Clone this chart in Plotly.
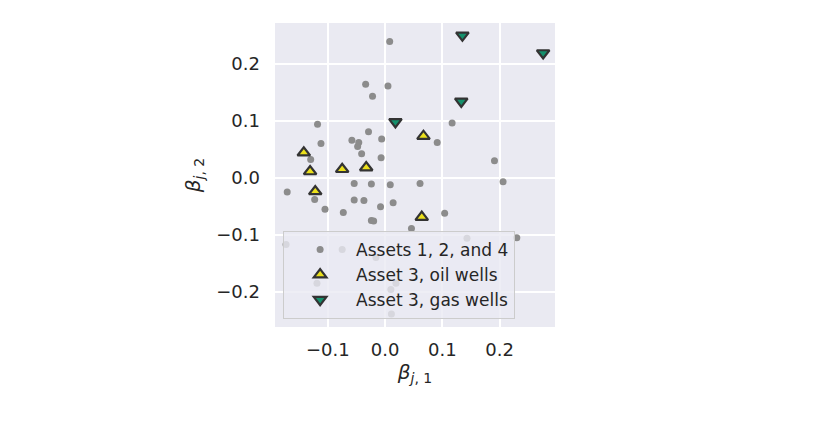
import plotly.graph_objects as go

# Assets 1, 2, and 4
other_x = [0.008, -0.034, 0.005, -0.022, -0.118, -0.112, -0.130, -0.058, -0.029, -0.046,
           -0.048, -0.006, -0.041, -0.007, -0.171, -0.123, -0.105, -0.054, -0.024, 0.009,
           -0.054, -0.037, -0.073, -0.008, 0.014, -0.024, -0.020, 0.117, 0.091, 0.191,
           0.061, 0.206, 0.104, 0.046, -0.173, -0.075, -0.016, 0.143, 0.230, -0.119,
           0.019, 0.010, 0.011]
other_y = [0.239, 0.164, 0.161, 0.143, 0.094, 0.060, 0.032, 0.066, 0.081, 0.062,
           0.055, 0.068, 0.042, 0.035, -0.025, -0.038, -0.055, -0.010, -0.011, -0.012,
           -0.039, -0.040, -0.061, -0.051, -0.044, -0.075, -0.076, 0.096, 0.062, 0.030,
           -0.010, -0.007, -0.062, -0.089, -0.117, -0.126, -0.140, -0.106, -0.105, -0.185,
           -0.185, -0.196, -0.239]

# Asset 3, oil wells
oil_x = [-0.142, -0.131, -0.075, -0.033, -0.122, 0.067, 0.064]
oil_y = [0.044, 0.011, 0.015, 0.018, -0.024, 0.073, -0.069]

# Asset 3, gas wells
gas_x = [0.135, 0.276, 0.133, 0.018]
gas_y = [0.250, 0.219, 0.134, 0.098]

x_ticks = [-0.1, 0.0, 0.1, 0.2]
y_ticks = [-0.2, -0.1, 0.0, 0.1, 0.2]

fig = go.Figure()
fig.add_trace(go.Scatter(
    x=other_x, y=other_y, mode="markers", name="Assets 1, 2, and 4",
    marker=dict(color="#8c8c8c", size=7, line=dict(width=0))))
fig.add_trace(go.Scatter(
    x=oil_x, y=oil_y, mode="markers", name="Asset 3, oil wells",
    marker=dict(symbol="triangle-up", color="#ebe01c", size=11,
                line=dict(color="#333333", width=2.2))))
fig.add_trace(go.Scatter(
    x=gas_x, y=gas_y, mode="markers", name="Asset 3, gas wells",
    marker=dict(symbol="triangle-down", color="#15906c", size=11,
                line=dict(color="#333333", width=2.2))))

axis_common = dict(
    showgrid=True, gridcolor="white", gridwidth=1.5, zeroline=False,
    showline=False, ticks="", tickfont=dict(size=18, color="#262626"),
)

fig.update_layout(
    width=830, height=423,
    margin=dict(l=267, r=283, t=15, b=104),
    paper_bgcolor="white", plot_bgcolor="#eaeaf2",
    font=dict(family="DejaVu Sans", color="#262626"),
    xaxis=dict(range=[-0.1923, 0.2967], tickvals=x_ticks,
               ticktext=["\u22120.1", "0.0", "0.1", "0.2"],
               ticklabelstandoff=10,
               title=dict(text="<i>\u03b2</i><sub><i>j</i>, 1</sub>", font=dict(size=20),
                          standoff=4),
               **axis_common),
    yaxis=dict(range=[-0.2618, 0.2716], tickvals=y_ticks,
               ticktext=["\u22120.2", "\u22120.1", "0.0", "0.1", "0.2"],
               ticklabelstandoff=14,
               title=dict(text="<i>\u03b2</i><sub><i>j</i>, 2</sub>", font=dict(size=20),
                          standoff=10),
               **axis_common),
    legend=dict(x=0.029, y=0.316, xanchor="left", yanchor="top",
                bgcolor="rgba(234,234,242,0.8)", bordercolor="#cccccc", borderwidth=1,
                font=dict(size=17, color="#262626"), tracegroupgap=0,
                itemsizing="trace", itemwidth=62),
)

fig.write_html("out.html")
